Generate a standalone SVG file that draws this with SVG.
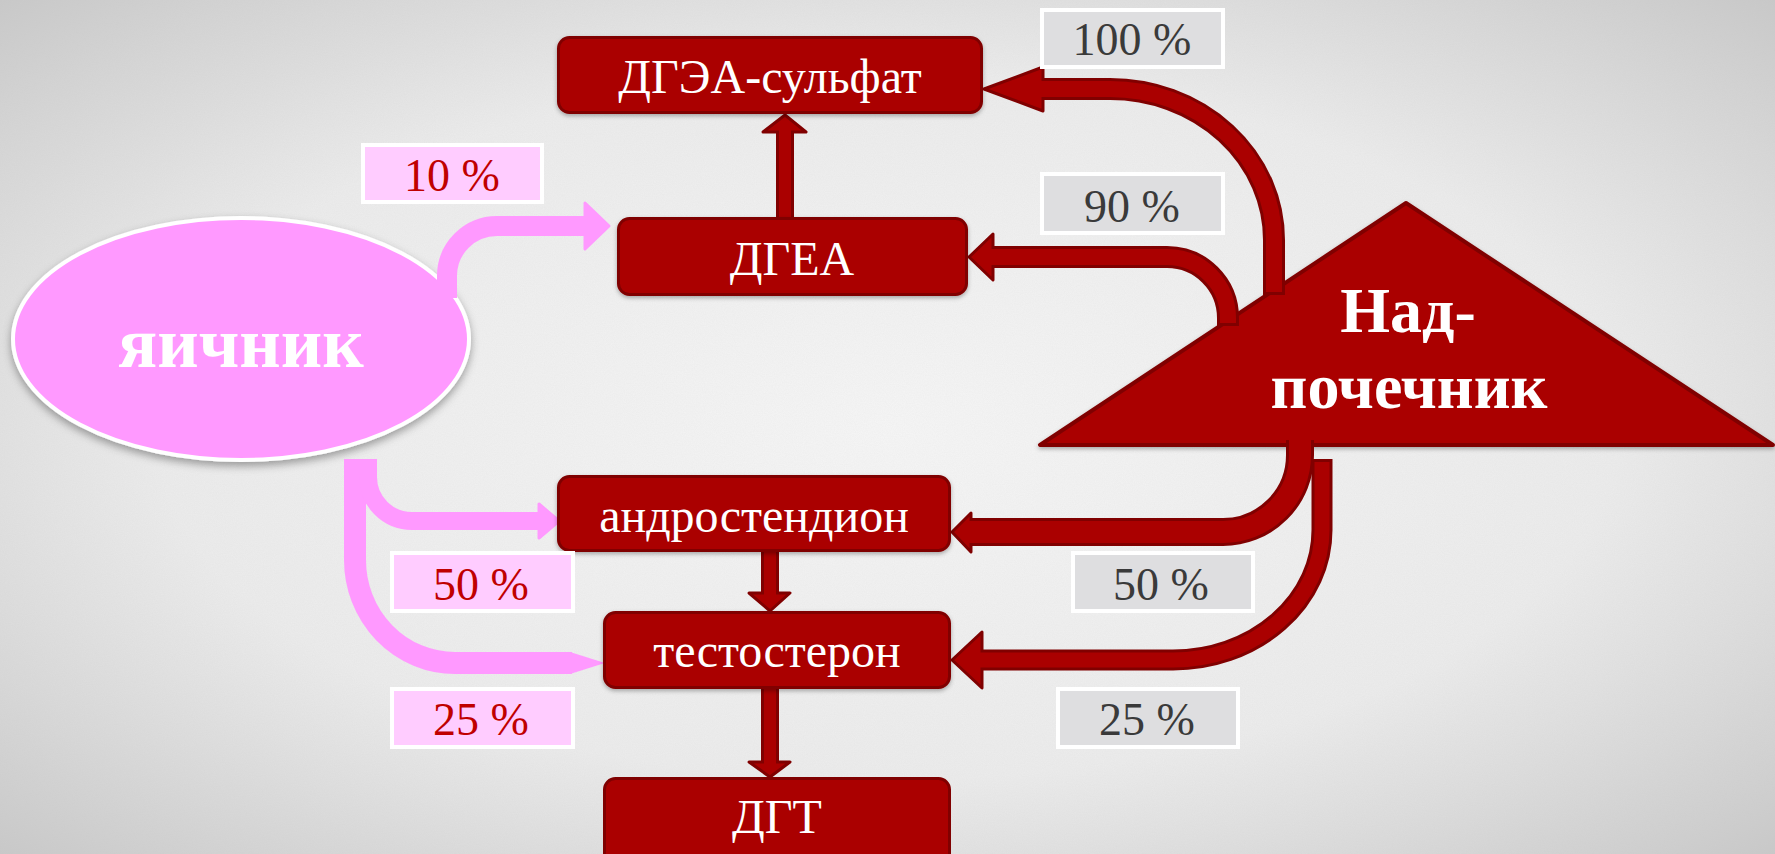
<svg xmlns="http://www.w3.org/2000/svg" width="1775" height="854" viewBox="0 0 1775 854">
<defs>
<radialGradient id="bg" cx="50%" cy="50%" r="75%">
<stop offset="0" stop-color="#f6f6f6"/>
<stop offset="0.55" stop-color="#ececec"/>
<stop offset="1" stop-color="#c4c4c4"/>
</radialGradient>
<filter id="noise" x="0" y="0" width="100%" height="100%">
<feTurbulence type="fractalNoise" baseFrequency="0.9" numOctaves="2" seed="3"/>
<feColorMatrix type="matrix" values="0 0 0 0 0.5  0 0 0 0 0.5  0 0 0 0 0.5  0 0 0 0.12 0"/>
</filter>
<filter id="sh" x="-10%" y="-10%" width="120%" height="130%">
<feDropShadow dx="0" dy="4" stdDeviation="4" flood-color="#000" flood-opacity="0.35"/>
</filter>
<filter id="sh2" x="-10%" y="-10%" width="120%" height="130%">
<feDropShadow dx="0" dy="2" stdDeviation="2" flood-color="#000" flood-opacity="0.3"/>
</filter>
</defs>
<style>
.box{fill:#aa0000;stroke:#800000;stroke-width:3}
.bt{font-family:"Liberation Serif","Times New Roman",serif;font-size:48px;fill:#ffffff;text-anchor:middle}
.big{font-family:"Liberation Serif","Times New Roman",serif;font-weight:bold;fill:#ffffff;text-anchor:middle}
.gl{fill:#dedee0;stroke:#ffffff;stroke-width:4}
.pl{fill:#ffccff;stroke:#ffffff;stroke-width:4}
.gt{font-family:"Liberation Serif","Times New Roman",serif;font-size:46px;fill:#3a3a3a;text-anchor:middle}
.pt{font-family:"Liberation Serif","Times New Roman",serif;font-size:46px;fill:#c00000;text-anchor:middle}
.ro{fill:none;stroke:#800000}
.ri{fill:none;stroke:#aa0000}
.rh{fill:#aa0000;stroke:#800000;stroke-width:3;stroke-linejoin:round}
.po{fill:none;stroke:#ff99ff}
.ph{fill:#ff99ff;stroke:#ff99ff;stroke-width:3;stroke-linejoin:round}
</style>
<rect width="1775" height="854" fill="url(#bg)"/>
<rect width="1775" height="854" filter="url(#noise)"/>

<g id="ovary">
<ellipse cx="241" cy="339" rx="228" ry="121" fill="#ff99ff" stroke="#ffffff" stroke-width="4" filter="url(#sh)"/>
<text class="big" x="241" y="367" font-size="72">яичник</text>
</g>

<g id="adrenal">
<polygon points="1406,203 1040,445 1773,445" fill="#aa0000" stroke="#800000" stroke-width="4" stroke-linejoin="round" filter="url(#sh2)"/>
<text class="big" x="1408" y="332" font-size="64">Над-</text>
<text class="big" x="1409" y="408" font-size="64">почечник</text>
</g>

<g id="connectors">
<!-- 100% -->
<path class="ro" stroke-width="22" d="M 1043 89 H 1110 A 164 151 0 0 1 1274 240 V 295"/>
<polygon class="rh" points="1043,67 984,89 1043,111"/>
<path class="ri" stroke-width="16" d="M 1039 89 H 1110 A 164 151 0 0 1 1274 240 V 292"/>
<!-- 90% -->
<path class="ro" stroke-width="22" d="M 993 257 H 1167 A 61 61 0 0 1 1228 318 V 326"/>
<polygon class="rh" points="993,234 969,257 993,280"/>
<path class="ri" stroke-width="16" d="M 989 257 H 1167 A 61 61 0 0 1 1228 318 V 323"/>
<!-- 25% right -->
<path class="ro" stroke-width="21" d="M 1322 459 V 530 A 149 130 0 0 1 1173 660 H 982"/>
<polygon class="rh" points="982,632 952,660 982,688"/>
<path class="ri" stroke-width="15" d="M 1322 462 V 530 A 149 130 0 0 1 1173 660 H 978"/>
<!-- 50% right -->
<path class="ro" stroke-width="28" d="M 1300 440 V 455 A 77 77 0 0 1 1223 532 H 971"/>
<polygon class="rh" points="971,513 952,532 971,552"/>
<path class="ri" stroke-width="22" d="M 1300 440 V 455 A 77 77 0 0 1 1223 532 H 967"/>
<!-- vertical arrows -->
<path class="ro" stroke-width="18" d="M 785 219 V 132"/>
<polygon class="rh" points="763,132 785,115 806,132"/>
<path class="ri" stroke-width="12" d="M 785 219 V 129"/>
<path class="ro" stroke-width="18" d="M 770 551 V 593"/>
<polygon class="rh" points="749,593 770,611 790,593"/>
<path class="ri" stroke-width="12" d="M 770 551 V 596"/>
<path class="ro" stroke-width="18" d="M 770 687 V 762"/>
<polygon class="rh" points="749,762 770,777 790,762"/>
<path class="ri" stroke-width="12" d="M 770 687 V 765"/>
<!-- pink arrows -->
<path class="po" stroke-width="20" d="M 447 298 V 276 A 50 50 0 0 1 497 226 H 587"/>
<polygon class="ph" points="585,203 609,226 585,249"/>
<path class="po" stroke-width="22" d="M 355 459 V 560 A 100 103 0 0 0 455 663 H 572"/>
<polygon points="570,652 605,663 570,674" fill="#ff99ff"/>
<path class="po" stroke-width="18" d="M 368 459 V 477 A 44 44 0 0 0 412 521 H 540"/>
<polygon class="ph" points="539,504 559,521 539,538"/>
</g>

<g id="n-dhea-s">
<rect class="box" x="558.5" y="37.5" width="423" height="75" rx="11" filter="url(#sh2)"/>
<text class="bt" x="770" y="93">ДГЭА-сульфат</text>
</g>
<g id="n-dhea">
<rect class="box" x="618.5" y="218.5" width="348" height="76" rx="11" filter="url(#sh2)"/>
<text class="bt" x="792" y="275">ДГЕА</text>
</g>
<g id="n-andro">
<rect class="box" x="558.5" y="476.5" width="391" height="74" rx="11" filter="url(#sh2)"/>
<text class="bt" x="754" y="532">андростендион</text>
</g>
<g id="n-testo">
<rect class="box" x="604.5" y="612.5" width="345" height="75" rx="11" filter="url(#sh2)"/>
<text class="bt" x="777" y="667">тестостерон</text>
</g>
<g id="n-dht">
<rect class="box" x="604.5" y="778.5" width="345" height="95" rx="11"/>
<text class="bt" x="777" y="833">ДГТ</text>
</g>

<g id="l-100"><rect class="gl" x="1042" y="10" width="181" height="57"/><text class="gt" x="1132" y="55">100 %</text></g>
<g id="l-90"><rect class="gl" x="1042" y="174" width="181" height="59"/><text class="gt" x="1132" y="222">90 %</text></g>
<g id="l-10"><rect class="pl" x="363" y="145" width="179" height="57"/><text class="pt" x="452" y="191">10 %</text></g>
<g id="l-50p"><rect class="pl" x="392" y="553" width="181" height="58"/><text class="pt" x="481" y="600">50 %</text></g>
<g id="l-25p"><rect class="pl" x="392" y="689" width="181" height="58"/><text class="pt" x="481" y="735">25 %</text></g>
<g id="l-50g"><rect class="gl" x="1073" y="553" width="180" height="58"/><text class="gt" x="1161" y="600">50 %</text></g>
<g id="l-25g"><rect class="gl" x="1058" y="689" width="180" height="58"/><text class="gt" x="1147" y="735">25 %</text></g>
</svg>
